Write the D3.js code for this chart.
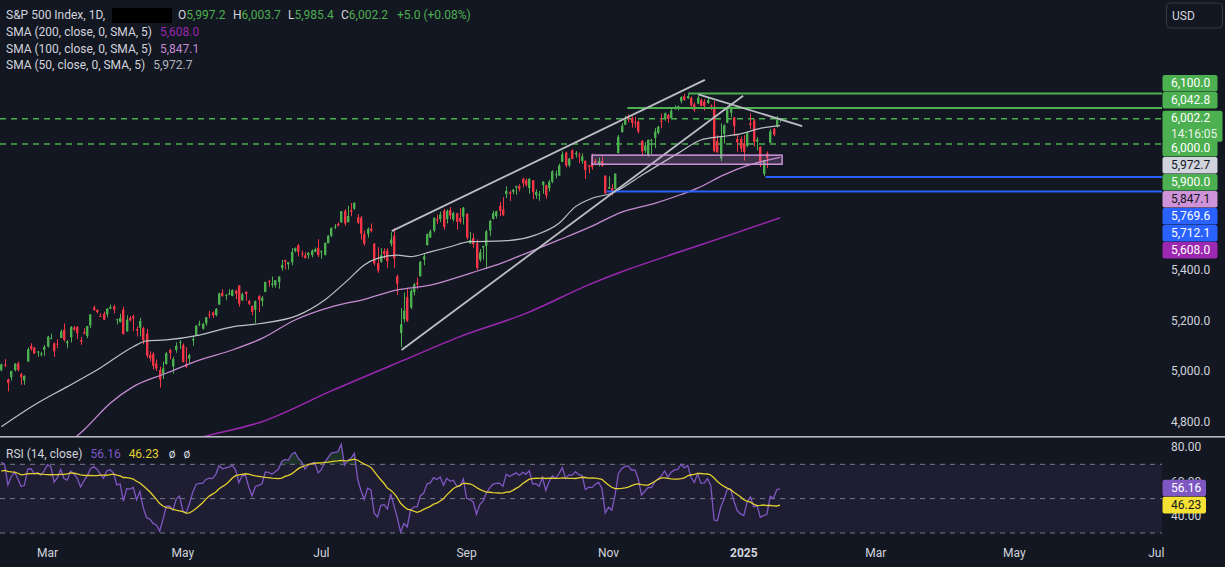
<!DOCTYPE html>
<html>
<head>
<meta charset="utf-8">
<title>S&P 500 Index, 1D</title>
<script src="https://cdn.jsdelivr.net/npm/d3@7"></script>
<style>
  html, body { margin: 0; padding: 0; background: #131722; }
  svg { display: block; font-family: Roboto, "Noto Sans", sans-serif; }
</style>
</head>
<body>
<svg width="1225" height="567"></svg>
<script>
// bar index 0 = 1 Mar 2024, first bar (-14) = 9 Feb 2024, last bar (222) = 21 Jan 2025
const firstIndex = -14;

const opens = [
  5004,5026,4967,4976,5004,5031,4989,4963,5038,5100,5093,5074,5067,5085,
  5098,5131,5110,5109,5132,5164,5111,5134,5173,5176,5123,5154,5139,5181,5253,5242,5219,5228,5226,5248,
  5257,5204,5194,5244,5158,5211,5217,5167,5172,5171,5149,5065,5068,5031,5005,4988,5028,5084,5019,5084,5114,5103,
  5029,5050,5122,5142,5187,5168,5190,5225,5233,5222,5264,5310,5303,5305,5298,5319,5340,5281,5315,5278,5259,5243,
  5297,5278,5314,5357,5344,5341,5353,5409,5441,5424,5431,5476,5499,5466,5459,5460,5460,5473,5488,
  5471,5461,5507,5537,5572,5584,5591,5635,5590,5638,5644,5610,5608,5543,5544,5565,5505,5428,5433,5476,5478,5505,
  5537,5376,5151,5206,5293,5252,5313,5351,5376,5442,5500,5530,5557,5602,5603,5637,5603,5639,5602,5626,5607,5612,
  5624,5507,5527,5507,5442,5490,5496,5557,5603,5615,5655,5641,5702,5709,5711,5727,5733,5762,5756,5726,
  5757,5698,5696,5737,5737,5725,5751,5778,5775,5829,5866,5816,5875,5859,5857,5833,5834,5816,5826,5833,5819,5832,5775,
  5723,5725,5722,5864,5947,5976,6008,6003,5986,5989,5913,5874,5857,5917,5924,5944,5992,6000,6015,6003,
  6040,6042,6069,6089,6081,6083,6057,6060,6074,6068,6063,6052,6048,5912,5842,5940,5984,6024,6006,5920,5920,
  5903,5892,5982,5993,5910,5890,5782,5863,5905,5961,5969,5997.2
];
const highs = [
  5030,5048,4971,5002,5032,5038,4993,4983,5094,5111,5097,5080,5077,5104,
  5140,5149,5114,5127,5165,5189,5124,5179,5179,5179,5136,5170,5180,5226,5261,5246,5229,5236,5249,5264,
  5263,5208,5228,5256,5222,5219,5224,5178,5211,5176,5168,5079,5077,5046,5019,5038,5076,5089,5057,5114,5124,5110,
  5096,5069,5139,5181,5200,5191,5215,5239,5237,5250,5311,5325,5305,5325,5324,5323,5341,5311,5315,5283,5260,5280,
  5302,5298,5354,5362,5375,5361,5376,5441,5441,5432,5488,5490,5505,5478,5472,5472,5483,5490,5523,
  5479,5509,5539,5570,5583,5590,5635,5642,5655,5666,5669,5622,5615,5557,5570,5585,5508,5491,5488,5487,5487,5551,
  5566,5383,5250,5312,5330,5326,5350,5371,5436,5464,5546,5561,5608,5620,5632,5643,5641,5651,5631,5627,5646,5651,
  5624,5552,5546,5522,5484,5497,5560,5600,5636,5636,5671,5690,5733,5716,5722,5735,5741,5767,5764,5765,
  5757,5720,5714,5753,5739,5757,5796,5795,5822,5871,5870,5846,5879,5872,5866,5863,5834,5817,5862,5842,5847,5851,5775,
  5772,5741,5783,5936,5983,6012,6017,6009,6008,5993,5915,5908,5918,5920,5963,5972,6020,6025,6020,6044,
  6053,6052,6089,6099,6099,6088,6065,6092,6080,6078,6085,6057,6070,5935,5982,5978,6040,6049,6006,5940,5929,
  5935,5950,6021,6000,5927,5890,5837,5871,5960,5964,6011,6003.7
];
const lows = [
  4999,5016,4920,4963,4999,4999,4946,4946,5038,5081,5068,5057,5058,5061,
  5094,5128,5057,5091,5131,5117,5091,5114,5160,5128,5104,5146,5131,5171,5240,5229,5216,5203,5214,5246,
  5229,5185,5194,5146,5157,5197,5160,5138,5138,5107,5052,5039,5007,5001,4935,4969,5027,5047,4990,5073,5088,5035,
  5013,5030,5101,5142,5178,5165,5180,5210,5211,5217,5263,5296,5283,5302,5297,5286,5256,5278,5280,5262,5222,5191,
  5234,5257,5313,5335,5331,5331,5327,5398,5403,5403,5420,5471,5455,5452,5447,5446,5451,5471,5452,
  5446,5458,5507,5531,5563,5574,5587,5576,5590,5614,5639,5584,5522,5497,5529,5550,5419,5390,5430,5444,5409,5494,
  5410,5302,5095,5193,5195,5246,5300,5325,5376,5420,5497,5528,5550,5584,5591,5560,5585,5602,5593,5561,5585,5581,
  5521,5504,5490,5402,5434,5442,5406,5535,5601,5605,5614,5616,5686,5674,5701,5699,5712,5729,5731,5703,
  5681,5683,5675,5703,5683,5712,5745,5764,5775,5829,5807,5808,5840,5846,5824,5822,5762,5784,5799,5823,5811,5810,5703,
  5723,5696,5722,5864,5946,5976,5986,5965,5965,5942,5853,5865,5850,5860,5884,5938,5963,5992,5984,6003,
  6036,6033,6061,6071,6079,6048,6028,6058,6050,6032,6059,6035,5867,5866,5832,5902,5983,6007,5932,5869,5868,
  5834,5888,5960,5890,5874,5809,5773,5805,5905,5931,5965,5985.4
];
const closes = [
  5027,5022,4953,5001,5030,5006,4976,4982,5087,5089,5070,5078,5070,5096,
  5137,5131,5079,5105,5157,5124,5118,5175,5165,5150,5117,5149,5179,5225,5242,5234,5218,5204,5248,5254,
  5244,5206,5211,5147,5204,5202,5210,5161,5199,5123,5062,5051,5022,5011,4967,5011,5071,5072,5048,5100,5116,5036,
  5018,5064,5128,5181,5188,5188,5214,5223,5221,5247,5308,5297,5303,5308,5321,5307,5268,5305,5306,5267,5235,5278,
  5283,5291,5354,5353,5347,5361,5375,5421,5434,5432,5473,5487,5473,5465,5448,5469,5478,5483,5460,
  5475,5509,5537,5567,5573,5577,5634,5585,5615,5631,5667,5588,5545,5505,5564,5556,5427,5399,5459,5464,5436,5522,
  5447,5347,5186,5240,5200,5319,5344,5344,5434,5455,5543,5554,5608,5597,5621,5571,5635,5617,5626,5592,5592,5648,
  5529,5520,5503,5408,5471,5496,5554,5596,5626,5633,5635,5618,5714,5703,5719,5733,5722,5745,5738,5762,
  5709,5710,5700,5751,5696,5751,5792,5780,5815,5860,5815,5842,5841,5865,5854,5851,5797,5810,5808,5824,5833,5814,5705,
  5729,5713,5783,5929,5973,5996,6001,5984,5985,5949,5871,5894,5917,5917,5949,5969,5987,6022,5999,6032,
  6047,6050,6086,6075,6090,6053,6035,6084,6051,6051,6074,6051,5872,5867,5931,5974,6040,6038,5971,5907,5882,
  5869,5942,5975,5909,5918,5827,5836,5843,5950,5937,5997.2,6002.2
];
// closes before the visible window (18 Dec 2023 - 8 Feb 2024), only used to warm up the RSI
const preCloses = [
  4740.6,4768.4,4698.4,4746.8,4754.6,4774.8,4781.6,4783.4,4769.8,
  4742.8,4704.8,4688.7,4697.2,4763.5,4756.5,4783.5,4780.2,4783.8,4766.0,4739.2,4780.9,
  4839.8,4850.4,4864.6,4868.6,4894.2,4891.0,4927.9,4925.0,4845.7,
  4906.2,4958.6,4942.8,4954.2,4995.1,4997.9
];

// moving averages (bar index, value)
const sma50Idx = [-14, -4, 6, 16, 26, 30, 36, 46, 56, 64, 76, 84, 91, 96, 100, 106, 110, 116, 122, 128, 138, 148, 155, 160, 165, 171, 181, 191, 198, 204, 210, 216, 222];
const sma50Val = [4780, 4866, 4939, 5013, 5097, 5120, 5124, 5143, 5176, 5188, 5222, 5282, 5361, 5421, 5447, 5460, 5454, 5473, 5493, 5513, 5516, 5540, 5586, 5652, 5685, 5705, 5784, 5863, 5916, 5929, 5940, 5962, 5972.7];
const sma100Idx = [4, 11, 19, 26, 36, 46, 56, 65, 75, 86, 96, 106, 116, 128, 138, 145, 155, 165, 174, 184, 192, 197, 205, 212, 222];
const sma100Val = [4690, 4767, 4873, 4939, 4992, 5044, 5084, 5130, 5203, 5255, 5285, 5322, 5341, 5388, 5430, 5467, 5520, 5575, 5630, 5665, 5700, 5725, 5778, 5814, 5847.1];
const sma200Idx = [40, 47, 65, 86, 108, 125, 145, 165, 174, 190, 206, 222];
const sma200Val = [4715, 4740, 4800, 4922, 5044, 5137, 5229, 5348, 5394, 5466, 5536, 5608];

// drawings
const trendStartIdx = [104.3, 107.3, 197.2];
const trendStartVal = [5555, 5084, 6097];
const trendEndIdx = [199.2, 210.8, 228.7];
const trendEndVal = [6154, 6091, 5971];
const levelVal = [6100, 6042.8, 5769.6, 5712.1];
const levelStartIdx = [194.2, 175.7, 217.6, 169.4];
const levelColor = ["#4caf50", "#4caf50", "#2962ff", "#2962ff"];
const dashedVal = [6000, 5900];
const zoneIdx = [165, 222.6];
const zoneVal = [5856, 5820];

// axes
const tickIdx = [0, 41, 83, 127, 170, 211, 251, 293, 336];
const tickLab = ["Mar", "May", "Jul", "Sep", "Nov", "2025", "Mar", "May", "Jul"];
const priceTicks = [6200, 6000, 5800, 5600, 5400, 5200, 5000, 4800];
const rsiTicks = [80, 60, 40];
const rsiLevels = [70, 50, 30];
const markerVal = [6100, 6042.8, 6000, 5972.7, 5900, 5847.1, 5769.6, 5712.1, 5608];
const markerFill = ["#4caf50", "#4caf50", "#4caf50", "#d1d4dc", "#4caf50", "#ce93d8", "#2962ff", "#2962ff", "#9c27b0"];
const markerText = ["#fff", "#fff", "#fff", "#131722", "#fff", "#131722", "#fff", "#fff", "#fff"];
const rsiLast = 56.16, rsiMaLast = 46.23;

const W = 1225, H = 567, paneRight = 1162;
const green = "#4caf50", red = "#f23645", textCol = "#d1d4dc";
const fmt = d3.format(",.1f");

const svg = d3.select("svg");
svg.append("rect").attr("width", W).attr("height", H).attr("fill", "#131722");

const x = d3.scaleLinear().domain([0, 222]).range([47.5, 780.1]);
const y = d3.scaleLinear().domain([4800, 6200]).range([421.7, 68.3]);
const yr = d3.scaleLinear().domain([30, 70]).range([533, 464.3]);

const defs = svg.append("defs");
defs.append("clipPath").attr("id", "mainClip").append("rect")
  .attr("x", 0).attr("y", 0).attr("width", paneRight).attr("height", 436);
defs.append("clipPath").attr("id", "rsiClip").append("rect")
  .attr("x", 0).attr("y", 438).attr("width", paneRight).attr("height", 102);

const bars = closes.map((c, k) => ({ i: k + firstIndex, o: opens[k], h: highs[k], l: lows[k], c: c }));

// ---------- main pane ----------
const main = svg.append("g").attr("clip-path", "url(#mainClip)");

main.selectAll(".dash").data(dashedVal).enter().append("line")
  .attr("x1", 0).attr("x2", paneRight)
  .attr("y1", d => y(d)).attr("y2", d => y(d))
  .attr("stroke", green).attr("stroke-width", 1.5).attr("stroke-dasharray", "6,5");

main.selectAll(".wick").data(bars).enter().append("rect")
  .attr("x", d => Math.round(x(d.i)))
  .attr("y", d => y(d.h))
  .attr("width", 1)
  .attr("height", d => Math.max(1, y(d.l) - y(d.h)))
  .attr("fill", d => d.c >= d.o ? green : red);

main.selectAll(".body").data(bars).enter().append("rect")
  .attr("x", d => Math.round(x(d.i)) - 1)
  .attr("y", d => y(Math.max(d.o, d.c)))
  .attr("width", 2.4)
  .attr("height", d => Math.max(1, Math.abs(y(d.o) - y(d.c))))
  .attr("fill", d => d.c >= d.o ? green : red);

const smaLine = d3.line().x(d => x(d[0])).y(d => y(d[1])).curve(d3.curveMonotoneX);
main.append("path").datum(d3.zip(sma200Idx, sma200Val)).attr("d", smaLine)
  .attr("fill", "none").attr("stroke", "#9c27b0").attr("stroke-width", 1.5);
main.append("path").datum(d3.zip(sma100Idx, sma100Val)).attr("d", smaLine)
  .attr("fill", "none").attr("stroke", "#c48bd0").attr("stroke-width", 1.3);
main.append("path").datum(d3.zip(sma50Idx, sma50Val)).attr("d", smaLine)
  .attr("fill", "none").attr("stroke", "#bfc1c7").attr("stroke-width", 1.2);

// drawings
main.selectAll(".level").data(levelVal).enter().append("line")
  .attr("x1", (d, k) => x(levelStartIdx[k])).attr("x2", paneRight)
  .attr("y1", d => y(d)).attr("y2", d => y(d))
  .attr("stroke", (d, k) => levelColor[k]).attr("stroke-width", 2);

main.selectAll(".trend").data(trendStartIdx).enter().append("line")
  .attr("x1", d => x(d)).attr("y1", (d, k) => y(trendStartVal[k]))
  .attr("x2", (d, k) => x(trendEndIdx[k])).attr("y2", (d, k) => y(trendEndVal[k]))
  .attr("stroke", "#bcbec4").attr("stroke-width", 1.8);

main.append("rect")
  .attr("x", x(zoneIdx[0])).attr("y", y(zoneVal[0]))
  .attr("width", x(zoneIdx[1]) - x(zoneIdx[0]))
  .attr("height", y(zoneVal[1]) - y(zoneVal[0]))
  .attr("fill", "rgba(206,147,216,0.22)")
  .attr("stroke", "#ce93d8").attr("stroke-width", 1.5);

// ---------- RSI pane ----------
const all = preCloses.concat(closes);
const rsiAll = new Array(all.length).fill(null);
let ag = 0, al = 0;
for (let k = 1; k <= 14; k++) {
  const d = all[k] - all[k - 1];
  if (d > 0) ag += d; else al -= d;
}
ag /= 14; al /= 14;
rsiAll[14] = 100 - 100 / (1 + ag / al);
for (let k = 15; k < all.length; k++) {
  const d = all[k] - all[k - 1];
  ag = (ag * 13 + Math.max(d, 0)) / 14;
  al = (al * 13 + Math.max(-d, 0)) / 14;
  rsiAll[k] = al === 0 ? 100 : 100 - 100 / (1 + ag / al);
}
const rsiMaAll = rsiAll.map((v, k) => k >= 27 ? d3.mean(rsiAll.slice(k - 13, k + 1)) : null);
const off = preCloses.length;
const rsiData = bars.map((b, k) => ({ i: b.i, r: rsiAll[k + off], m: rsiMaAll[k + off] }));

const rsiG = svg.append("g").attr("clip-path", "url(#rsiClip)");
rsiG.append("rect").attr("x", 0).attr("y", yr(70)).attr("width", paneRight)
  .attr("height", yr(30) - yr(70)).attr("fill", "rgba(126,87,194,0.1)");
rsiG.selectAll(".lvl").data(rsiLevels).enter().append("line")
  .attr("x1", 0).attr("x2", paneRight)
  .attr("y1", d => yr(d)).attr("y2", d => yr(d))
  .attr("stroke", "#787b86").attr("stroke-width", 1).attr("stroke-dasharray", "5,5");

rsiG.append("path").datum(rsiData)
  .attr("d", d3.area().x(d => x(d.i)).y0(yr(70)).y1(d => yr(Math.max(d.r, 70))))
  .attr("fill", "rgba(76,175,80,0.18)");
rsiG.append("path").datum(rsiData)
  .attr("d", d3.area().x(d => x(d.i)).y0(yr(30)).y1(d => yr(Math.min(d.r, 30))))
  .attr("fill", "rgba(242,54,69,0.18)");

rsiG.append("path").datum(rsiData)
  .attr("d", d3.line().x(d => x(d.i)).y(d => yr(d.r)))
  .attr("fill", "none").attr("stroke", "#7e57c2").attr("stroke-width", 1.3);
rsiG.append("path").datum(rsiData)
  .attr("d", d3.line().x(d => x(d.i)).y(d => yr(d.m)))
  .attr("fill", "none").attr("stroke", "#e3cf2f").attr("stroke-width", 1.3);

// pane separator
svg.append("rect").attr("x", 0).attr("y", 436).attr("width", W).attr("height", 1.6).attr("fill", "#b8bac2");

// ---------- time axis ----------
svg.selectAll(".xt").data(tickIdx).enter().append("text")
  .attr("x", d => x(d)).attr("y", 553).attr("dy", "0.35em")
  .attr("text-anchor", "middle").attr("font-size", 12)
  .attr("font-weight", (d, k) => tickLab[k] === "2025" ? "bold" : "normal")
  .attr("fill", textCol).text((d, k) => tickLab[k]);

// ---------- price scale ----------
const lastPrice = closes[closes.length - 1];
const lastY = y(lastPrice);
const markers = markerVal.map((v, k) => ({ v: v, fill: markerFill[k], col: markerText[k] }));
const step = 17;
let limit = lastY - 9.5;
markers.filter(m => m.v > lastPrice).sort((a, b) => a.v - b.v).forEach(m => {
  m.cy = Math.min(y(m.v), limit - step / 2);
  limit = m.cy - step / 2;
});
limit = lastY + 21.5;
markers.filter(m => m.v <= lastPrice).sort((a, b) => b.v - a.v).forEach(m => {
  m.cy = Math.max(y(m.v), limit + step / 2);
  limit = m.cy + step / 2;
});

const scale = svg.append("g");
scale.selectAll(".pt").data(priceTicks.filter(t => {
  const ty = y(t);
  if (ty > lastY - 16 && ty < lastY + 31) return false;
  return !markers.some(m => Math.abs(m.cy - ty) < 15);
})).enter().append("text")
  .attr("x", 1171).attr("y", d => y(d)).attr("dy", "0.35em")
  .attr("font-size", 12).attr("fill", textCol).text(d => fmt(d));

scale.selectAll(".mk").data(markers).enter().append("rect")
  .attr("x", 1162.5).attr("y", d => d.cy - 8.25).attr("width", 55).attr("height", 16.5)
  .attr("rx", 2).attr("fill", d => d.fill);
scale.selectAll(".mkt").data(markers).enter().append("text")
  .attr("x", 1171).attr("y", d => d.cy).attr("dy", "0.35em")
  .attr("font-size", 12).attr("fill", d => d.col).text(d => fmt(d.v));

scale.append("rect").attr("x", 1162.5).attr("y", lastY - 7.5).attr("width", 60).attr("height", 31)
  .attr("rx", 2).attr("fill", green);
scale.append("text").attr("x", 1171).attr("y", lastY).attr("dy", "0.35em")
  .attr("font-size", 12).attr("fill", "#fff").text(fmt(lastPrice));
scale.append("text").attr("x", 1171).attr("y", lastY + 15.5).attr("dy", "0.35em")
  .attr("font-size", 12).attr("fill", "#e6f4e7").text("14:16:05");

// RSI scale
scale.selectAll(".rt").data(rsiTicks).enter().append("text")
  .attr("x", 1171).attr("y", d => yr(d)).attr("dy", "0.35em")
  .attr("font-size", 12).attr("fill", textCol).text(d => d.toFixed(2));
const rsiBoxes = [[rsiLast, "#7e57c2", "#fff"], [rsiMaLast, "#f5e133", "#131722"]];
scale.selectAll(".rb").data(rsiBoxes).enter().append("rect")
  .attr("x", 1162.5).attr("y", d => yr(d[0]) - 8.25).attr("width", 43.5).attr("height", 16.5)
  .attr("rx", 2).attr("fill", d => d[1]);
scale.selectAll(".rbt").data(rsiBoxes).enter().append("text")
  .attr("x", 1171).attr("y", d => yr(d[0])).attr("dy", "0.35em")
  .attr("font-size", 12).attr("fill", d => d[2]).text(d => d[0].toFixed(2));

// USD button
scale.append("rect").attr("x", 1166.5).attr("y", 3).attr("width", 56).attr("height", 25)
  .attr("rx", 4).attr("fill", "none").attr("stroke", "#363a45");
scale.append("text").attr("x", 1172).attr("y", 16).attr("dy", "0.35em")
  .attr("font-size", 12).attr("fill", textCol).text("USD");

// ---------- legends ----------
const leg = svg.append("g").attr("font-size", 12);
leg.append("text").attr("x", 6).attr("y", 15).attr("dy", "0.35em").attr("fill", textCol).text("S&P 500 Index, 1D,");
leg.append("rect").attr("x", 112).attr("y", 8).attr("width", 60).attr("height", 15).attr("fill", "#000");
const last = bars[bars.length - 1];
const ohlc = [["O", last.o, 178], ["H", last.h, 233], ["L", last.l, 288], ["C", last.c, 341]];
ohlc.forEach(d => {
  const t = leg.append("text").attr("x", d[2]).attr("y", 15).attr("dy", "0.35em");
  t.append("tspan").attr("fill", textCol).text(d[0]);
  t.append("tspan").attr("fill", green).text(fmt(d[1]));
});
leg.append("text").attr("x", 397).attr("y", 15).attr("dy", "0.35em").attr("fill", green).text("+5.0 (+0.08%)");

const smaLeg = [["SMA (200, close, 0, SMA, 5)", sma200Val, "#9c27b0"],
                ["SMA (100, close, 0, SMA, 5)", sma100Val, "#c48bd0"],
                ["SMA (50, close, 0, SMA, 5)", sma50Val, "#b2b5be"]];
smaLeg.forEach((d, k) => {
  const t = leg.append("text").attr("x", 6).attr("y", 32 + k * 16.3).attr("dy", "0.35em");
  t.append("tspan").attr("fill", textCol).text(d[0]);
  t.append("tspan").attr("dx", 8).attr("fill", d[2]).text(fmt(d[1][d[1].length - 1]));
});

const rl = leg.append("text").attr("x", 6).attr("y", 454).attr("dy", "0.35em");
rl.append("tspan").attr("fill", textCol).text("RSI (14, close)");
rl.append("tspan").attr("dx", 8).attr("fill", "#7e57c2").text(rsiLast.toFixed(2));
rl.append("tspan").attr("dx", 8).attr("fill", "#e3cf2f").text(rsiMaLast.toFixed(2));
rl.append("tspan").attr("dx", 10).attr("fill", textCol).text("ø");
rl.append("tspan").attr("dx", 8).attr("fill", textCol).text("ø");
</script>
</body>
</html>
